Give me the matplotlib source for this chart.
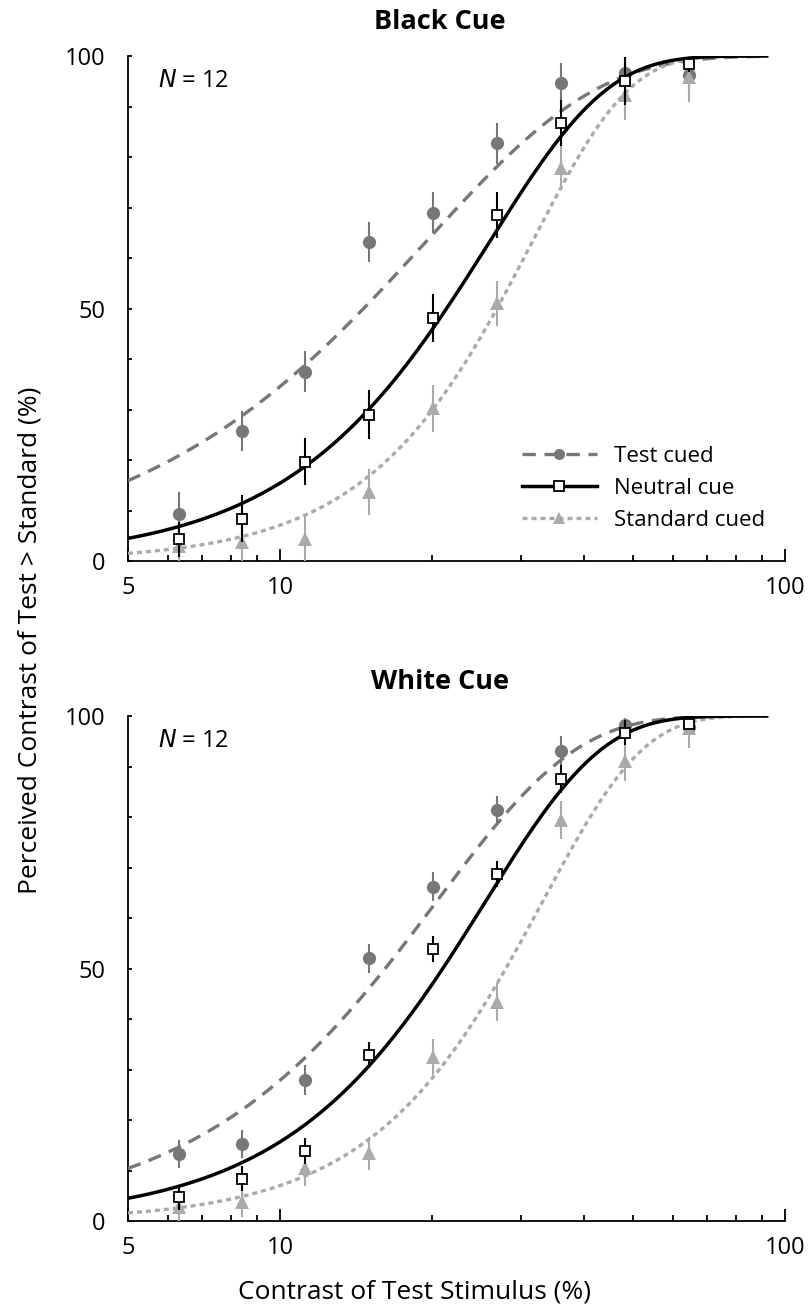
import numpy as np
import matplotlib.pyplot as plt
from matplotlib.ticker import FixedLocator, NullFormatter

plt.rcParams['font.family'] = ['Open Sans', 'DejaVu Sans']

contrast = [6.3, 8.4, 11.2, 15.0, 20.1, 26.9, 36.0, 48.2, 64.6]

# Black cue panel
black_test = [9.4, 25.7, 37.5, 63.2, 69.0, 82.7, 94.7, 96.6, 96.2]
black_test_err = [4.2, 4.0, 4.0, 4.0, 4.0, 4.0, 4.0, 3.0, 3.0]
black_neutral = [4.3, 8.4, 19.7, 29.0, 48.1, 68.5, 86.7, 95.0, 98.4]
black_neutral_err = [3.5, 4.6, 4.7, 4.8, 4.7, 4.6, 4.5, 4.8, 1.5]
black_standard = [3.0, 3.8, 4.3, 13.7, 30.2, 51.0, 77.8, 92.3, 95.9]
black_standard_err = [3.5, 4.5, 4.8, 4.6, 4.6, 4.5, 4.3, 5.0, 5.0]

# White cue panel
white_test = [13.2, 15.2, 27.9, 52.0, 66.2, 81.4, 93.1, 98.2, 97.8]
white_test_err = [2.8, 2.8, 2.9, 2.8, 2.9, 2.7, 2.9, 1.5, 1.5]
white_neutral = [4.7, 8.4, 13.9, 32.9, 53.8, 68.7, 87.5, 96.7, 98.4]
white_neutral_err = [2.5, 2.4, 2.6, 2.6, 2.6, 2.5, 2.7, 2.5, 1.0]
white_standard = [2.8, 3.8, 10.4, 13.4, 32.5, 43.4, 79.4, 91.0, 97.6]
white_standard_err = [3.0, 3.0, 3.5, 3.3, 3.6, 3.8, 3.8, 3.8, 4.0]

# Weibull fit parameters (scale, shape)
black_fit_scale = [19.45, 26.0, 31.6]
black_fit_shape = [1.29, 1.87, 2.27]
white_fit_scale = [20.4, 25.5, 33.1]
white_fit_shape = [1.57, 1.89, 2.19]

labels = ['Test cued', 'Neutral cue', 'Standard cued']
titles = ['Black Cue', 'White Cue']

dark_gray = '#777777'
light_gray = '#aaaaaa'


def weibull(x, a, b):
    return 100 * (1 - np.exp(-(x / a) ** b))


W, H = 811, 1315
fig = plt.figure(figsize=(W / 100, H / 100), dpi=100)

panels = [
    (56, black_test, black_test_err, black_neutral, black_neutral_err,
     black_standard, black_standard_err, black_fit_scale, black_fit_shape),
    (716, white_test, white_test_err, white_neutral, white_neutral_err,
     white_standard, white_standard_err, white_fit_scale, white_fit_shape),
]

xs = np.logspace(np.log10(5), np.log10(92), 300)

for i, (top, t, te, n, ne, s, se, scale, shape) in enumerate(panels):
    ax = fig.add_axes([128 / W, 1 - (top + 505) / H, 657 / W, 505 / H])

    # test cued
    ax.errorbar(contrast, t, yerr=te, fmt='none', ecolor=dark_gray,
                elinewidth=1.5, capsize=0, zorder=2)
    ax.plot(contrast, t, 'o', color=dark_gray, markersize=9.5,
            markeredgewidth=0, zorder=3, clip_on=False)
    ax.plot(xs, weibull(xs, scale[0], shape[0]), color=dark_gray, lw=2.4,
            dashes=(4, 2.6), zorder=4)

    # standard cued
    ax.errorbar(contrast, s, yerr=se, fmt='none', ecolor=light_gray,
                elinewidth=1.5, capsize=0, zorder=5)
    ax.plot(contrast, s, '^', color=light_gray, markersize=10,
            markeredgewidth=0, zorder=6, clip_on=False)
    ax.plot(xs, weibull(xs, scale[2], shape[2]), color=light_gray, lw=2.4,
            dashes=(1.5, 1.2), zorder=7)

    # neutral
    ax.errorbar(contrast, n, yerr=ne, fmt='none', ecolor='black',
                elinewidth=1.5, capsize=0, zorder=8)
    ax.plot(xs, weibull(xs, scale[1], shape[1]), color='black', lw=2.5,
            zorder=9)
    ax.plot(contrast, n, 's', color='white', markeredgecolor='black',
            markersize=7, markeredgewidth=1.3, zorder=10, clip_on=False)

    ax.set_xscale('log')
    ax.set_xlim(5, 100)
    ax.set_ylim(0, 100)
    ax.xaxis.set_major_locator(FixedLocator([5, 10, 100]))
    ax.set_xticklabels(['5', '10', '100'])
    ax.xaxis.set_minor_locator(FixedLocator([6, 7, 8, 9, 20, 30, 40, 50, 60, 70, 80, 90]))
    ax.xaxis.set_minor_formatter(NullFormatter())
    ax.set_yticks([0, 50, 100])
    ax.yaxis.set_minor_locator(FixedLocator(range(0, 101, 10)))
    ax.tick_params(axis='x', which='major', direction='in', length=8.5,
                   width=1.3, labelsize=17, pad=11)
    ax.tick_params(axis='x', which='minor', direction='in', length=4.3,
                   width=1.3)
    ax.tick_params(axis='y', which='both', direction='in', length=3,
                   width=1.3, labelsize=17, pad=16)
    for side in ['top', 'right']:
        ax.spines[side].set_visible(False)
    for side in ['left', 'bottom']:
        ax.spines[side].set_linewidth(1.3)

    ax.text(0.045, 0.95, '$N$ = 12', transform=ax.transAxes, fontsize=17,
            va='center', ha='left')
    fig.text(440 / W, 1 - (top - 34) / H, titles[i], fontsize=19.5,
             fontweight='bold', ha='center', va='center')

    if i == 0:
        h1, = ax.plot([], [], color=dark_gray, lw=2.4, dashes=(4, 2.6),
                      marker='o', markersize=8, markeredgewidth=0)
        h2, = ax.plot([], [], color='black', lw=2.5, marker='s',
                      markerfacecolor='white', markeredgecolor='black',
                      markersize=7, markeredgewidth=1.3)
        h3, = ax.plot([], [], color=light_gray, lw=2.4, dashes=(1.5, 1.2),
                      marker='^', markersize=9, markeredgewidth=0)
        ax.legend([h1, h2, h3], labels, loc='lower right',
                  bbox_to_anchor=(1.0, 0.02), frameon=False, fontsize=16,
                  handlelength=3.4, handletextpad=0.75, labelspacing=0.5)

fig.text(30 / W, 1 - 640 / H, 'Perceived Contrast of Test > Standard (%)',
         rotation=90, fontsize=19, ha='center', va='center')
fig.text(415 / W, 1 - 1292 / H, 'Contrast of Test Stimulus (%)',
         fontsize=19, ha='center', va='center')

fig.savefig('out.png', dpi=100)
